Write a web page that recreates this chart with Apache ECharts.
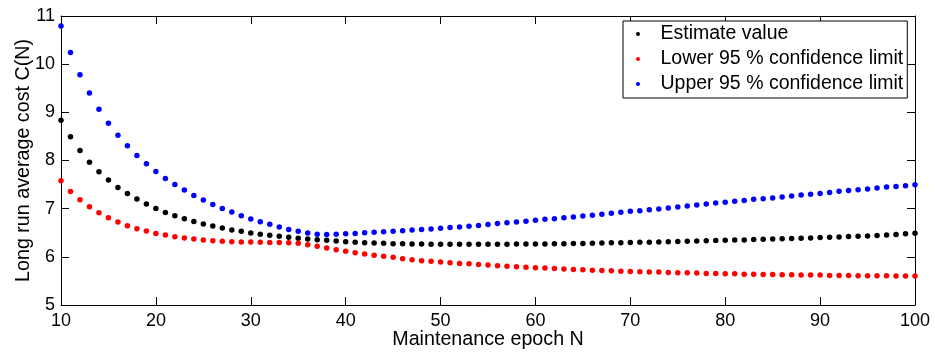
<!DOCTYPE html>
<html>
<head>
<meta charset="utf-8">
<script src="https://cdn.jsdelivr.net/npm/echarts@6/dist/echarts.min.js"></script>
<style>html,body{margin:0;padding:0;background:#fff;}#c{width:935px;height:352px;}</style>
</head>
<body>
<div id="c"></div>
<script>
var epochs = [10,11,12,13,14,15,16,17,18,19,20,21,22,23,24,25,26,27,28,29,30,31,32,33,34,35,36,37,38,39,40,41,42,43,44,45,46,47,48,49,50,51,52,53,54,55,56,57,58,59,60,61,62,63,64,65,66,67,68,69,70,71,72,73,74,75,76,77,78,79,80,81,82,83,84,85,86,87,88,89,90,91,92,93,94,95,96,97,98,99,100];
var estimate = [
8.837,8.491,8.208,7.966,7.766,7.593,7.441,7.317,7.199,7.095,
7.005,6.923,6.853,6.791,6.736,6.681,6.639,6.598,6.556,6.529,
6.494,6.467,6.446,6.425,6.404,6.384,6.370,6.356,6.342,6.328,
6.314,6.301,6.294,6.287,6.280,6.273,6.270,6.267,6.265,6.263,
6.262,6.262,6.262,6.262,6.262,6.262,6.262,6.263,6.264,6.265,
6.267,6.269,6.271,6.274,6.276,6.279,6.283,6.286,6.290,6.293,
6.297,6.301,6.305,6.309,6.314,6.318,6.323,6.327,6.332,6.337,
6.342,6.347,6.352,6.358,6.363,6.369,6.375,6.381,6.387,6.393,
6.400,6.406,6.413,6.420,6.427,6.434,6.445,6.455,6.466,6.477,
6.490];
var lower95 = [
7.579,7.358,7.185,7.040,6.916,6.812,6.722,6.646,6.584,6.536,
6.487,6.453,6.418,6.390,6.370,6.349,6.335,6.321,6.314,6.310,
6.307,6.305,6.300,6.298,6.292,6.280,6.252,6.218,6.183,6.149,
6.114,6.086,6.059,6.031,6.010,5.990,5.962,5.941,5.920,5.907,
5.893,5.876,5.862,5.855,5.841,5.828,5.814,5.807,5.793,5.786,
5.772,5.766,5.759,5.745,5.738,5.731,5.724,5.717,5.710,5.703,
5.697,5.690,5.683,5.683,5.676,5.669,5.669,5.662,5.655,5.655,
5.648,5.648,5.641,5.641,5.634,5.634,5.628,5.628,5.621,5.621,
5.621,5.614,5.614,5.614,5.607,5.607,5.607,5.607,5.600,5.600,
5.600];
var upper95 = [
10.79,10.24,9.78,9.40,9.065,8.775,8.526,8.305,8.104,7.932,
7.773,7.627,7.503,7.386,7.275,7.178,7.088,7.005,6.930,6.853,
6.784,6.729,6.674,6.619,6.570,6.529,6.494,6.467,6.465,6.470,
6.480,6.487,6.498,6.508,6.520,6.533,6.543,6.556,6.566,6.577,
6.592,6.607,6.621,6.634,6.648,6.669,6.690,6.710,6.724,6.738,
6.759,6.779,6.793,6.814,6.828,6.848,6.862,6.883,6.903,6.924,
6.945,6.959,6.979,6.993,7.014,7.034,7.055,7.076,7.097,7.117,
7.131,7.152,7.172,7.193,7.207,7.221,7.241,7.262,7.283,7.297,
7.317,7.338,7.359,7.379,7.393,7.407,7.428,7.448,7.462,7.476,
7.497];
var xTicks = [10,20,30,40,50,60,70,80,90,100];
var yTicks = [5,6,7,8,9,10,11];
var seriesNames = ['Estimate value','Lower 95 % confidence limit','Upper 95 % confidence limit'];

function pairs(vals){ return epochs.map(function(n,i){ return [n, vals[i]]; }); }

var FONT = '"Liberation Sans", Arial, Helvetica, sans-serif';
var chart = echarts.init(document.getElementById('c'), null, {renderer:'canvas'});
var axisLine = {show:true, lineStyle:{color:'#000', width:1}};
var xMin = xTicks[0], xMax = xTicks[xTicks.length-1], xInt = xTicks[1]-xTicks[0];
var yMin = yTicks[0], yMax = yTicks[yTicks.length-1], yInt = yTicks[1]-yTicks[0];

chart.setOption({
  animation:false,
  backgroundColor:'#fff',
  grid:{left:61, right:20, top:16, bottom:47, containLabel:false, outerBoundsMode:'none'},
  xAxis:[
    {type:'value', position:'bottom', min:xMin, max:xMax, interval:xInt,
     axisLine:axisLine, axisTick:{show:true, inside:true, length:8, lineStyle:{color:'#000'}},
     splitLine:{show:false},
     axisLabel:{color:'#000', fontSize:18, fontFamily:FONT, margin:7},
     name:'Maintenance epoch N', nameLocation:'middle', nameGap:25, nameMoveOverlap:false,
     nameTextStyle:{color:'#000', fontSize:19.7, fontFamily:FONT}},
    {type:'value', position:'top', min:xMin, max:xMax, interval:xInt,
     axisLine:axisLine, axisTick:{show:true, inside:true, length:8, lineStyle:{color:'#000'}},
     splitLine:{show:false}, axisLabel:{show:false}}
  ],
  yAxis:[
    {type:'value', position:'left', min:yMin, max:yMax, interval:yInt,
     axisLine:axisLine, axisTick:{show:true, inside:true, length:8, lineStyle:{color:'#000'}},
     splitLine:{show:false},
     axisLabel:{color:'#000', fontSize:18, fontFamily:FONT, margin:6},
     name:'Long run average cost C(N)', nameLocation:'middle', nameGap:27, nameMoveOverlap:false,
     nameTextStyle:{color:'#000', fontSize:19.7, fontFamily:FONT}},
    {type:'value', position:'right', min:yMin, max:yMax, interval:yInt,
     axisLine:axisLine, axisTick:{show:true, inside:true, length:8, lineStyle:{color:'#000'}},
     splitLine:{show:false}, axisLabel:{show:false}}
  ],
  legend:{
    orient:'vertical', left:623, top:21,
    padding:[3,4,4,13], itemGap:5, itemWidth:35, itemHeight:4,
    borderColor:'#000', borderWidth:1, backgroundColor:'#fff',
    icon:'circle',
    itemStyle:{opacity:1},
    textStyle:{color:'#000', fontSize:19.5, fontFamily:FONT, lineHeight:19},
    data:seriesNames
  },
  series:[
    {name:seriesNames[0], type:'scatter', symbolSize:5.5, data:pairs(estimate), itemStyle:{color:'#000000', opacity:1}},
    {name:seriesNames[1], type:'scatter', symbolSize:5.5, data:pairs(lower95), itemStyle:{color:'#ff0000', opacity:1}},
    {name:seriesNames[2], type:'scatter', symbolSize:5.5, data:pairs(upper95), itemStyle:{color:'#0000ff', opacity:1}}
  ]
});
</script>
</body>
</html>
